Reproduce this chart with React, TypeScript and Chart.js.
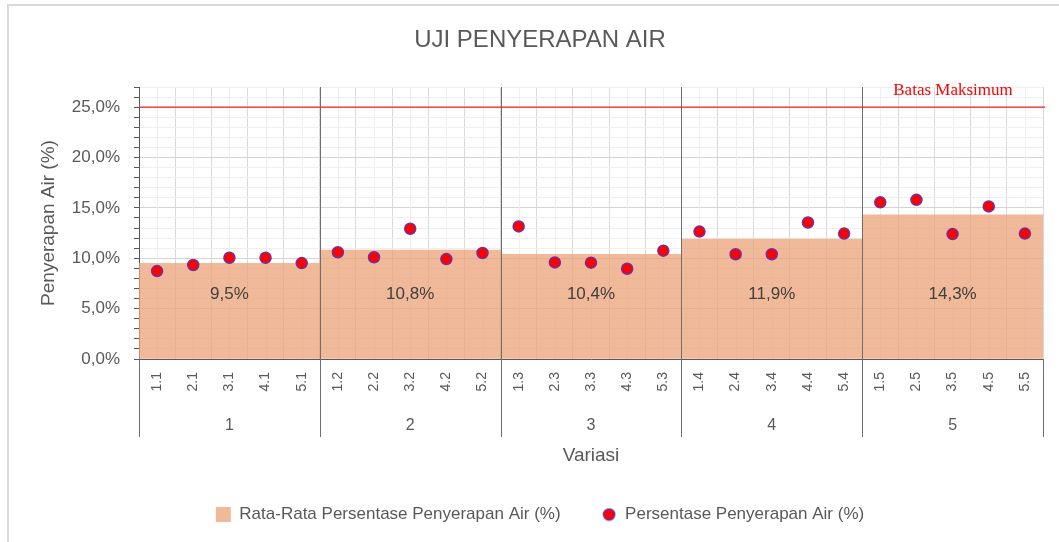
import React, { useEffect, useRef } from 'react';
import { Chart, registerables } from 'chart.js';

Chart.register(...registerables);

const chartTitle = 'UJI PENYERAPAN AIR';
const xAxisTitle = 'Variasi';
const yAxisTitle = 'Penyerapan Air (%)';
const averageLabel = 'Rata-Rata Persentase Penyerapan Air (%)';
const sampleLabel = 'Persentase Penyerapan Air (%)';
const limitLabel = 'Batas Maksimum';

const groupLabels = ['1', '2', '3', '4', '5'];
const sampleLabels = [
  '1.1', '2.1', '3.1', '4.1', '5.1',
  '1.2', '2.2', '3.2', '4.2', '5.2',
  '1.3', '2.3', '3.3', '4.3', '5.3',
  '1.4', '2.4', '3.4', '4.4', '5.4',
  '1.5', '2.5', '3.5', '4.5', '5.5',
];
const averageValues = [9.5, 10.8, 10.4, 11.9, 14.3];
const sampleValues = [
  8.73, 9.33, 10.05, 10.05, 9.52,
  10.6, 10.1, 12.93, 9.92, 10.52,
  13.16, 9.59, 9.56, 8.96, 10.75,
  12.65, 10.4, 10.4, 13.55, 12.45,
  15.55, 15.8, 12.4, 15.15, 12.45,
];
const limitValue = 25;
const yMin = 0;
const yMax = 27;
const barLabelLevel = 6.4;

const FONT = "'Liberation Sans', Arial, sans-serif";
const SERIF = "'Liberation Serif', 'Times New Roman', serif";
const TEXT = '#595959';

const fmt = (v: number) => v.toFixed(1).replace('.', ',') + '%';

function makeCircle(): HTMLCanvasElement {
  const c = document.createElement('canvas');
  c.width = 14;
  c.height = 14;
  const g = c.getContext('2d')!;
  g.beginPath();
  g.arc(7, 7, 5.6, 0, Math.PI * 2);
  g.fillStyle = '#FF0000';
  g.fill();
  g.lineWidth = 1.5;
  g.strokeStyle = '#7030A0';
  g.stroke();
  return c;
}

const decorPlugin = {
  id: 'decor',
  beforeDatasetsDraw(chart: any) {
    const { ctx, chartArea: a, scales } = chart;
    const x = scales.x;
    ctx.save();
    ctx.strokeStyle = '#efefef';
    ctx.lineWidth = 1;
    sampleLabels.forEach((_, i) => {
      const px = Math.round(x.getPixelForValue(i)) + 0.5;
      ctx.beginPath();
      ctx.moveTo(px, a.top);
      ctx.lineTo(px, a.bottom);
      ctx.stroke();
    });
    ctx.restore();
  },
  afterDatasetsDraw(chart: any) {
    const { ctx, chartArea: a, scales } = chart;
    const x2 = scales.x2;
    const y = scales.y;
    ctx.save();
    // group separators
    const half = (x2.getPixelForValue(1) - x2.getPixelForValue(0)) / 2;
    const bottom = x2.top + 38;
    ctx.strokeStyle = '#6e6e6e';
    ctx.lineWidth = 1;
    for (let i = 0; i <= groupLabels.length; i++) {
      const c = i < groupLabels.length ? x2.getPixelForValue(i) - half : x2.getPixelForValue(i - 1) + half;
      const px = Math.round(c) + 0.5;
      const top = i === 0 || i === groupLabels.length ? a.bottom : a.top;
      ctx.beginPath();
      ctx.moveTo(px, top);
      ctx.lineTo(px, bottom);
      ctx.stroke();
    }
    // limit line
    const ly = y.getPixelForValue(limitValue);
    ctx.strokeStyle = '#FF2020';
    ctx.lineWidth = 1.3;
    ctx.beginPath();
    ctx.moveTo(a.left, ly);
    ctx.lineTo(a.right + 2, ly);
    ctx.stroke();
    ctx.fillStyle = '#FF0000';
    ctx.font = `17px ${SERIF}`;
    ctx.textAlign = 'center';
    ctx.textBaseline = 'alphabetic';
    ctx.fillText(limitLabel, a.right - 90, ly - 12);
    // bar labels
    ctx.fillStyle = '#404040';
    ctx.font = `17px ${FONT}`;
    ctx.textBaseline = 'middle';
    averageValues.forEach((v, i) => {
      ctx.fillText(fmt(v), x2.getPixelForValue(i), y.getPixelForValue(barLabelLevel));
    });
    ctx.restore();
  },
};

export default function App() {
  const ref = useRef<HTMLCanvasElement>(null);

  useEffect(() => {
    const circle = makeCircle();
    const chart = new Chart(ref.current!, {
      type: 'bar',
      data: {
        labels: sampleLabels,
        datasets: [
          {
            type: 'bar',
            label: averageLabel,
            data: averageValues,
            xAxisID: 'x2',
            yAxisID: 'y',
            backgroundColor: 'rgba(235,162,119,0.75)',
            borderWidth: 0,
            barPercentage: 1,
            categoryPercentage: 1,
            grouped: false,
            order: 2,
          } as any,
          {
            type: 'line',
            label: sampleLabel,
            data: sampleValues,
            xAxisID: 'x',
            yAxisID: 'y',
            showLine: false,
            pointRadius: 5.5,
            pointBackgroundColor: '#FF0000',
            pointBorderColor: '#7030A0',
            pointBorderWidth: 1.5,
            backgroundColor: '#FF0000',
            borderColor: '#7030A0',
            order: 1,
          } as any,
        ],
      },
      options: {
        animation: false,
        responsive: false,
        devicePixelRatio: 1,
        layout: { padding: { left: 28, right: 16, top: 0, bottom: 9 } },
        plugins: {
          title: {
            display: true,
            text: chartTitle,
            color: TEXT,
            font: { family: FONT, size: 24, weight: 'normal', lineHeight: 1.2 },
            padding: { top: 19.6, bottom: 32.6 },
          },
          legend: {
            position: 'bottom',
            labels: {
              usePointStyle: true,
              boxWidth: 15,
              boxHeight: 15,
              padding: 41,
              color: TEXT,
              font: { family: FONT, size: 17 },
              sort: (a: any, b: any) => a.datasetIndex - b.datasetIndex,
              generateLabels: (ch: any) => {
                const items = (Chart.defaults.plugins.legend.labels as any).generateLabels(ch);
                return items.map((it: any) => ({
                  ...it,
                  pointStyle: it.datasetIndex === 0 ? 'rect' : circle,
                  lineWidth: 0,
                  strokeStyle: 'rgba(0,0,0,0)',
                }));
              },
            },
          },
          tooltip: { enabled: false },
        },
        scales: {
          x: {
            type: 'category',
            labels: sampleLabels,
            position: 'bottom',
            offset: true,
            grid: { offset: true, color: '#d9d9d9', drawTicks: false },
            border: { color: TEXT },
            ticks: {
              minRotation: 90,
              maxRotation: 90,
              autoSkip: false,
              padding: 13,
              color: TEXT,
              font: { family: FONT, size: 14 },
            },
            afterFit: (s: any) => { s.height = 40; },
          },
          x2: {
            type: 'category',
            labels: groupLabels,
            position: 'bottom',
            offset: true,
            grid: { display: false, drawTicks: false },
            border: { display: false },
            ticks: { padding: 17, color: TEXT, font: { family: FONT, size: 16 } },
            title: {
              display: true,
              text: xAxisTitle,
              color: TEXT,
              font: { family: FONT, size: 19, lineHeight: 1 },
              padding: { top: 0, bottom: 0 },
            },
            afterFit: (s: any) => { s.height = 66; },
          },
          y: {
            min: yMin,
            max: yMax,
            ticks: {
              stepSize: 1,
              autoSkip: false,
              padding: 14,
              color: TEXT,
              font: { family: FONT, size: 17 },
              callback: (v: any) => (Number(v) % 5 === 0 ? fmt(Number(v)) : ''),
            },
            grid: {
              color: (c: any) => (c.tick && c.tick.value % 5 === 0 ? '#d4d4d4' : '#eeeeee'),
              tickLength: 5,
              tickColor: TEXT,
            },
            border: { color: TEXT },
            title: {
              display: true,
              text: yAxisTitle,
              color: TEXT,
              font: { family: FONT, size: 19 },
              padding: { top: 0, bottom: 0 },
            },
            afterFit: (s: any) => { s.width = 102; },
          },
        },
      } as any,
      plugins: [decorPlugin],
    });
    return () => chart.destroy();
  }, []);

  return (
    <div
      style={{
        position: 'fixed',
        left: 7,
        top: 4,
        width: 1052,
        height: 538,
        borderTop: '2px solid #d9d9d9',
        borderLeft: '2px solid #d9d9d9',
        background: '#fff',
        boxSizing: 'border-box',
      }}
    >
      <canvas ref={ref} width={1050} height={536} style={{ display: 'block' }} />
    </div>
  );
}
